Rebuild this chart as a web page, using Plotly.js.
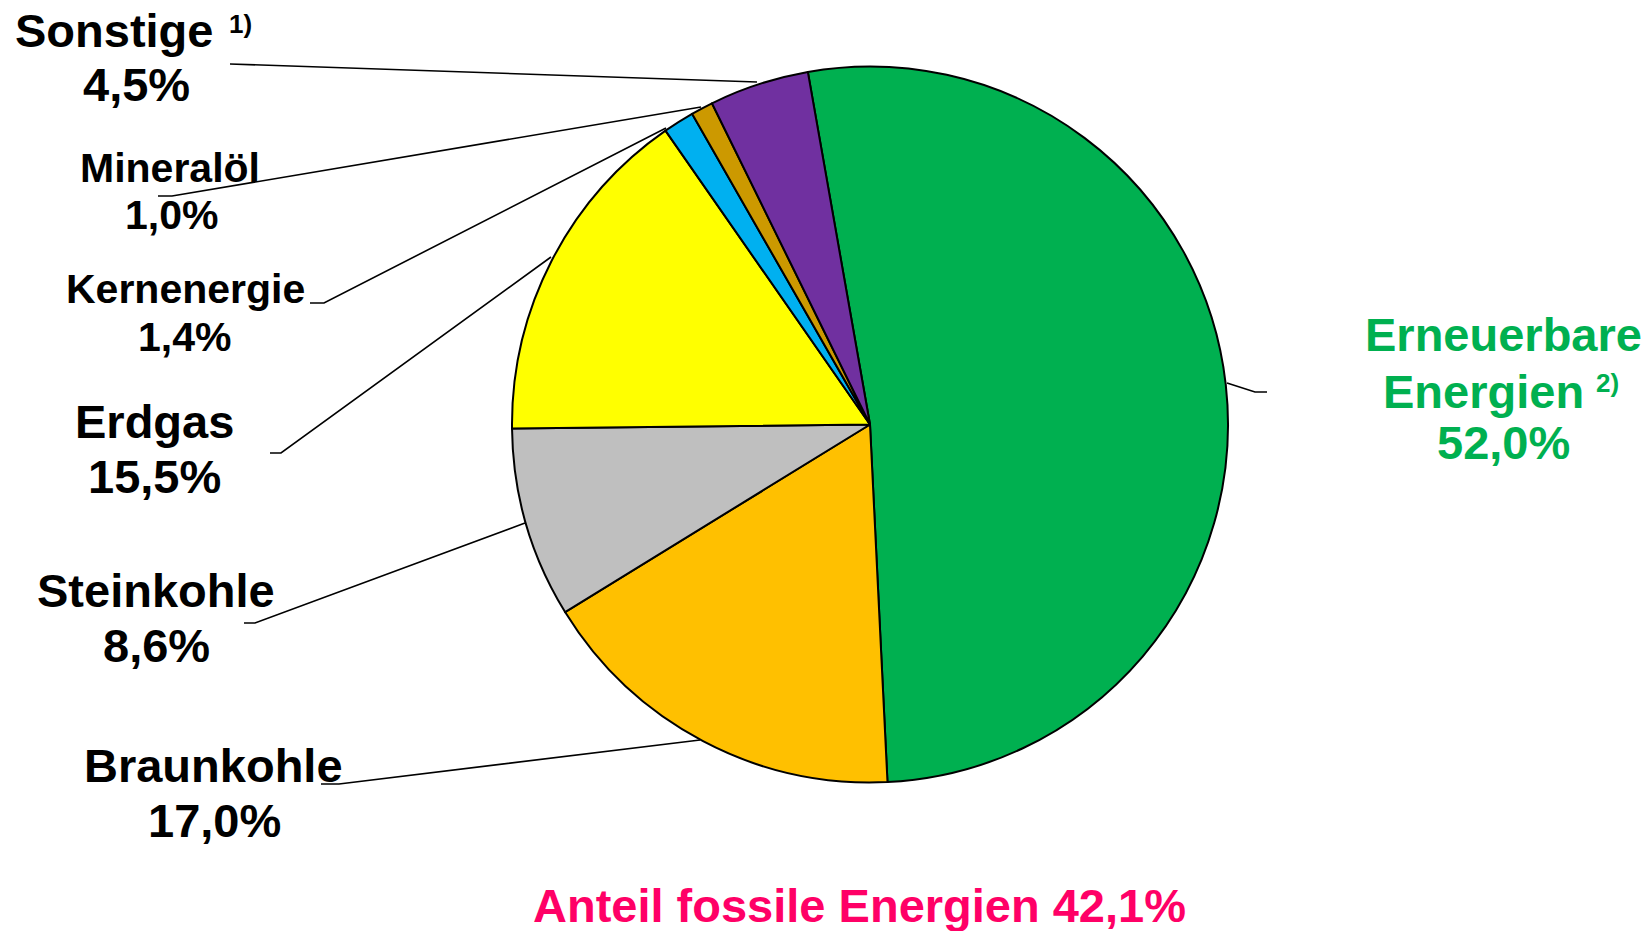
<!DOCTYPE html>
<html>
<head>
<meta charset="utf-8">
<script src="https://cdn.plot.ly/plotly-3.0.1.min.js"></script>
<style>html,body{margin:0;padding:0;background:#fff;}#chart{width:1648px;height:931px;}</style>
</head>
<body>
<div id="chart"></div>
<script>
// ---- data ----
const labels = ['Erneuerbare Energien', 'Braunkohle', 'Steinkohle', 'Erdgas', 'Kernenergie', 'Mineralöl', 'Sonstige'];
const values = [52.0, 17.0, 8.6, 15.5, 1.4, 1.0, 4.5];
const fossil = ['Braunkohle', 'Steinkohle', 'Erdgas', 'Mineralöl'];
const footnotes = {'Erneuerbare Energien': '2)', 'Sonstige': '1)'};

// ---- styles ----
const colors = ['#00B050', '#FFC000', '#BFBFBF', '#FFFF00', '#00B0F0', '#CC9900', '#7030A0'];
const W = 1648, H = 931;
const px = x => x / W, py = y => 1 - y / H;
const FONT = 'Liberation Sans, Arial, sans-serif';

// label layout (pixel positions): name line(s), footnote, value line, size, colour, leader path
const labelLayout = {
  'Sonstige':    {nx: 13, nAnchor: 'left', ny: 30, fx: 227, fy: 24, vx: 136, vy: 84, size: 47, color: '#000', path: [[230,64],[757,82]]},
  'Mineralöl':   {nx: 170, ny: 168, vx: 171, vy: 215, size: 41, color: '#000', path: [[158,196],[172,196],[701,107]]},
  'Kernenergie': {nx: 185, ny: 289, vx: 184, vy: 337, size: 41, color: '#000', path: [[310,303],[324,303],[666,128]]},
  'Erdgas':      {nx: 154, ny: 421, vx: 154, vy: 476, size: 47, color: '#000', path: [[270,453],[281,453],[551,257]]},
  'Steinkohle':  {nx: 156, ny: 590, vx: 156, vy: 645, size: 47, color: '#000', path: [[244,623],[255,623],[525,523]]},
  'Braunkohle':  {nx: 213, ny: 765, vx: 214, vy: 820, size: 47, color: '#000', path: [[321,784],[339,784],[700,740]]},
  'Erneuerbare Energien': {nx: 1503, ny: 334, n2x: 1381, n2y: 391, fx: 1594, fy: 383, vx: 1503, vy: 442, size: 47, color: '#00B050', path: [[1227,383],[1255,392],[1267,392]]}
};

const fmt = v => v.toFixed(1).replace('.', ',') + '%';

const annotations = [];
const shapes = [];
labels.forEach((lab, i) => {
  const L = labelLayout[lab];
  const f = {family: FONT, size: L.size, color: L.color, weight: 700};
  const base = {xref: 'paper', yref: 'paper', showarrow: false, xanchor: 'center', yanchor: 'middle', font: f};
  if (L.n2y !== undefined) {
    const parts = lab.split(' ');
    annotations.push(Object.assign({}, base, {x: px(L.nx), y: py(L.ny), text: parts[0]}));
    annotations.push(Object.assign({}, base, {x: px(L.n2x), y: py(L.n2y), xanchor: 'left', text: parts[1]}));
  } else {
    annotations.push(Object.assign({}, base, {x: px(L.nx), y: py(L.ny), xanchor: L.nAnchor || 'center', text: lab}));
  }
  if (footnotes[lab]) {
    annotations.push(Object.assign({}, base, {x: px(L.fx), y: py(L.fy), xanchor: 'left', text: footnotes[lab],
      font: {family: FONT, size: 26, color: L.color, weight: 700}}));
  }
  annotations.push(Object.assign({}, base, {x: px(L.vx), y: py(L.vy), text: fmt(values[i])}));
  const d = L.path.map((p, k) => (k ? 'L' : 'M') + px(p[0]) + ',' + py(p[1])).join(' ');
  shapes.push({type: 'path', xref: 'paper', yref: 'paper', path: d, line: {color: '#000', width: 1.6}});
});

const fossilShare = fossil.reduce((s, n) => s + values[labels.indexOf(n)], 0);
annotations.push({xref: 'paper', yref: 'paper', x: px(859), y: py(905), showarrow: false,
  xanchor: 'center', yanchor: 'middle', text: 'Anteil fossile Energien ' + fmt(fossilShare),
  font: {family: FONT, size: 47, color: '#FF0066', weight: 700}});

const trace = {
  type: 'pie',
  labels: labels,
  values: values,
  sort: false,
  direction: 'clockwise',
  rotation: -10,
  textinfo: 'none',
  hoverinfo: 'label+value',
  marker: {colors: colors, line: {color: '#000', width: 2}},
  domain: {x: [(870 - 358) / W, (870 + 358) / W], y: [(H - 424.5 - 358) / H, (H - 424.5 + 358) / H]},
  showlegend: false
};

const layout = {
  width: W, height: H,
  margin: {l: 0, r: 0, t: 0, b: 0},
  paper_bgcolor: '#fff',
  showlegend: false,
  annotations: annotations,
  shapes: shapes
};

Plotly.newPlot('chart', [trace], layout, {displayModeBar: false, staticPlot: true});
</script>
</body>
</html>
